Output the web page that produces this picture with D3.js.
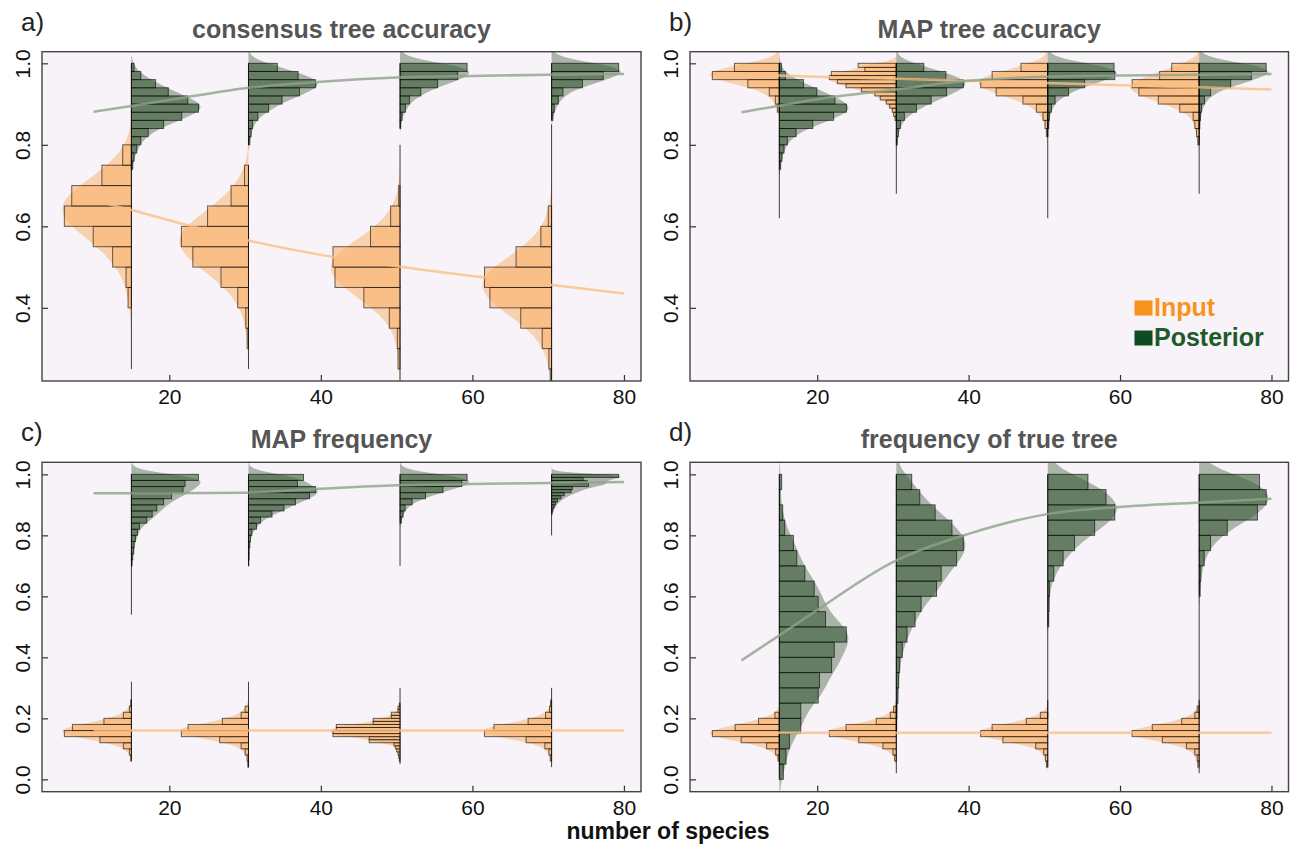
<!DOCTYPE html>
<html>
<head>
<meta charset="utf-8">
<script src="https://cdn.jsdelivr.net/npm/d3@7"></script>
<style>
  body { margin: 0; background: #fff; }
  text { font-family: 'Liberation Sans', Arial, Helvetica, sans-serif; }
</style>
</head>
<body>
<svg id="fig" width="1291" height="845"></svg>
<script>
// species counts of the four simulation sets, and where the fitted curves are read
const groups = [15, 30.45, 50.45, 70.45];
const fitX = [10, 15, 20, 30, 40, 50, 60, 70, 80];
const xTicks = [20, 40, 60, 80];

// histogram bins: first lower edge, bin width, relative counts (bottom -> top)
// a) consensus tree accuracy
const aInStart = [0.25, 0.25, 0.20, 0.20];
const aInStep = [0.05, 0.05, 0.05, 0.05];
const aIn = [
  [0, 0, 0, 0.05, 0.08, 0.28, 0.57, 1.0, 0.89, 0.44, 0.13],
  [0, 0.02, 0.04, 0.16, 0.41, 0.83, 1.0, 0.61, 0.26, 0.06],
  [0, 0.03, 0.04, 0.16, 0.54, 0.97, 1.0, 0.44, 0.14, 0.02, 0, 0],
  [0.02, 0.04, 0.14, 0.46, 0.92, 1.0, 0.53, 0.16, 0.05, 0, 0, 0, 0]
];
const aPostStart = [0.74, 0.80, 0.84, 0.86];
const aPostStep = [0.02, 0.02, 0.02, 0.02];
const aPost = [
  [0.02, 0.04, 0.08, 0.14, 0.25, 0.48, 0.75, 1.0, 0.84, 0.55, 0.36, 0.14, 0.04],
  [0.02, 0.04, 0.06, 0.14, 0.3, 0.5, 0.76, 1.0, 0.74, 0.43],
  [0.01, 0.03, 0.08, 0.14, 0.31, 0.56, 0.86, 1.0],
  [0.02, 0.04, 0.1, 0.17, 0.46, 0.77, 1.0]
];
const aFitIn = [0.663, 0.64, 0.615, 0.567, 0.53, 0.502, 0.478, 0.457, 0.435];
const aFitPost = [0.881, 0.895, 0.91, 0.939, 0.955, 0.965, 0.969, 0.972, 0.974];

// b) MAP tree accuracy
const bInStart = [0.88, 0.86, 0.82, 0.80];
const bInStep = [0.02, 0.01, 0.02, 0.02];
const bIn = [
  [0.03, 0.06, 0.15, 0.47, 1.0, 0.67],
  [0.02, 0.04, 0.06, 0.1, 0.15, 0.24, 0.32, 0.52, 0.75, 0.88, 1.0, 0.97, 0.47, 0.57],
  [0.02, 0.04, 0.07, 0.17, 0.37, 0.77, 1.0, 0.83, 0.4],
  [0.02, 0.04, 0.065, 0.09, 0.29, 0.61, 0.9, 1.0, 0.59, 0.41]
];
const bPostStart = [0.62, 0.68, 0.62, 0.68];
const bPostStep = [0.02, 0.02, 0.02, 0.02];
const bPost = [
  [0, 0, 0, 0, 0, 0, 0.02, 0.04, 0.07, 0.12, 0.25, 0.5, 0.81, 1.0, 0.83, 0.56, 0.36, 0.09, 0.03],
  [0, 0, 0, 0, 0, 0, 0.015, 0.03, 0.06, 0.12, 0.3, 0.52, 0.75, 1.0, 0.74, 0.41],
  [0, 0, 0, 0, 0, 0, 0, 0, 0, 0, 0, 0.015, 0.025, 0.055, 0.11, 0.31, 0.55, 1.0, 0.99],
  [0, 0, 0, 0, 0, 0, 0, 0, 0.01, 0.02, 0.035, 0.08, 0.17, 0.47, 0.78, 1.0]
];
const bFitIn = [0.974, 0.97, 0.967, 0.962, 0.957, 0.952, 0.946, 0.941, 0.936];
const bFitPost = [0.88, 0.896, 0.912, 0.935, 0.957, 0.967, 0.97, 0.972, 0.974];

// c) MAP frequency
const cInStart = [0.06, 0.04, 0.05, 0.04];
const cInStep = [0.02, 0.02, 0.01, 0.02];
const cIn = [
  [0.01, 0.03, 0.12, 0.47, 1.0, 0.88, 0.41, 0.12, 0.03, 0.01, 0, 0, 0],
  [0.01, 0.02, 0.05, 0.11, 0.43, 1.0, 0.9, 0.39, 0.11, 0.05, 0, 0, 0, 0],
  [0, 0.01, 0.02, 0.03, 0.05, 0.07, 0.09, 0.46, 0.46, 1.0, 1.0, 0.95, 0.95, 0.4, 0.4, 0.13, 0.13, 0.03, 0.03, 0.01, 0, 0, 0, 0, 0],
  [0, 0.02, 0.04, 0.1, 0.38, 1.0, 0.86, 0.35, 0.09, 0.03, 0.015, 0, 0]
];
const cPostStart = [0.54, 0.70, 0.70, 0.80];
const cPostStep = [0.02, 0.02, 0.02, 0.01];
const cPost = [
  [0, 0, 0, 0, 0, 0, 0, 0, 0.01, 0.02, 0.035, 0.04, 0.06, 0.09, 0.12, 0.23, 0.31, 0.38, 0.48, 0.6, 0.77, 0.8, 1.0],
  [0.005, 0.01, 0.01, 0.02, 0.03, 0.05, 0.12, 0.18, 0.35, 0.53, 0.7, 0.91, 1.0, 0.73, 0.82],
  [0, 0, 0, 0, 0, 0, 0, 0.02, 0.045, 0.075, 0.18, 0.38, 0.64, 0.92, 1.0],
  [0, 0, 0, 0, 0, 0, 0, 0.01, 0.02, 0.04, 0.06, 0.09, 0.14, 0.19, 0.29, 0.31, 0.55, 0.53, 0.47, 1.0]
];
const cFitIn = [0.16, 0.16, 0.16, 0.16, 0.16, 0.16, 0.16, 0.16, 0.16];
const cFitPost = [0.938, 0.938, 0.938, 0.94, 0.953, 0.964, 0.968, 0.972, 0.975];

// d) frequency of true tree
const dInStart = [0.06, 0.02, 0.04, 0.02];
const dInStep = [0.02, 0.02, 0.02, 0.02];
const dIn = [
  [0.02, 0.055, 0.19, 0.57, 1.0, 0.66, 0.31, 0.065],
  [0, 0, 0.025, 0.05, 0.2, 0.56, 1.0, 0.75, 0.3, 0.09, 0.04],
  [0.02, 0.035, 0.06, 0.18, 0.67, 1.0, 0.83, 0.32, 0.11, 0, 0],
  [0, 0.02, 0.03, 0.065, 0.19, 0.55, 1.0, 0.7, 0.26, 0.065, 0.03, 0]
];
const dPostStart = [0.0, 0.15, 0.20, 0.20];
const dPostStep = [0.05, 0.05, 0.05, 0.05];
const dPost = [
  [0.06, 0.1, 0.15, 0.32, 0.32, 0.58, 0.6, 0.78, 0.82, 1.0, 0.69, 0.58, 0.52, 0.38, 0.26, 0.21, 0.08, 0.05, 0.005, 0.035],
  [0.005, 0.01, 0.025, 0.035, 0.05, 0.09, 0.16, 0.28, 0.37, 0.6, 0.67, 0.9, 1.0, 0.83, 0.58, 0.35, 0.23],
  [0, 0, 0, 0, 0, 0, 0.015, 0.02, 0.025, 0.09, 0.23, 0.4, 0.7, 1.0, 0.87, 0.6],
  [0, 0, 0, 0, 0, 0, 0, 0, 0.015, 0.025, 0.075, 0.17, 0.42, 0.87, 1.0, 0.9]
];
const dFitIn = [0.153, 0.153, 0.153, 0.153, 0.153, 0.153, 0.153, 0.153, 0.153];
const dFitPost = [0.39, 0.472, 0.555, 0.712, 0.805, 0.868, 0.893, 0.907, 0.92];

const col = {
  bg: '#f7f3f9',
  inBar: 'rgba(250,178,106,0.58)',
  inDens: 'rgba(251,176,100,0.5)',
  inFit: '#fbbf85',
  postBar: 'rgba(58,92,56,0.62)',
  postDens: 'rgba(75,105,72,0.45)',
  postFit: '#8ea28b',
  legIn: '#f7941d',
  legPostBox: '#0e4a22',
  legPost: '#1f5a2c'
};

const panels = [
  { tag: 'a)', title: 'consensus tree accuracy', box: [42, 51.7, 641, 381],
    yDomain: [0.2205, 1.0285], yTicks: [0.4, 0.6, 0.8, 1.0],
    input: [aInStart, aInStep, aIn], post: [aPostStart, aPostStep, aPost],
    fitIn: aFitIn, fitPost: aFitPost },
  { tag: 'b)', title: 'MAP tree accuracy', box: [690, 51.7, 1288.5, 381],
    yDomain: [0.2205, 1.0285], yTicks: [0.4, 0.6, 0.8, 1.0],
    input: [bInStart, bInStep, bIn], post: [bPostStart, bPostStep, bPost],
    fitIn: bFitIn, fitPost: bFitPost, legend: true },
  { tag: 'c)', title: 'MAP frequency', box: [42, 462.3, 641, 791.7],
    yDomain: [-0.0405, 1.0395], yTicks: [0.0, 0.2, 0.4, 0.6, 0.8, 1.0],
    input: [cInStart, cInStep, cIn], post: [cPostStart, cPostStep, cPost],
    fitIn: cFitIn, fitPost: cFitPost },
  { tag: 'd)', title: 'frequency of true tree', box: [690, 462.3, 1288.5, 791.7],
    yDomain: [-0.0405, 1.0395], yTicks: [0.0, 0.2, 0.4, 0.6, 0.8, 1.0],
    input: [dInStart, dInStep, dIn], post: [dPostStart, dPostStep, dPost],
    fitIn: dFitIn, fitPost: dFitPost }
];

const svg = d3.select('#fig');

// smoothed outline of a histogram, scaled so that its peak matches the tallest bin
function smooth(start, step, counts) {
  const mids = counts.map((c, i) => start + step * (i + 0.5));
  const bw = step * 0.8;
  const lo = start - 2.5 * bw;
  const hi = start + step * counts.length + 2.5 * bw;
  const pts = d3.range(lo, hi + step / 16, step / 8).map(v =>
    [v, d3.sum(counts, (c, i) => c * Math.exp(-0.5 * ((v - mids[i]) / bw) ** 2))]
  );
  const m = d3.max(pts, p => p[1]);
  return pts.filter(p => p[1] > 0.004 * m).map(p => [p[0], 1.03 * p[1] / m]);
}

function drawPanel(p, idx) {
  const [x0, y0, x1, y1] = p.box;
  const x = d3.scaleLinear().domain([3.2, 82.25]).range([x0, x1]);
  const y = d3.scaleLinear().domain(p.yDomain).range([y1, y0]);
  const w = d3.scaleLinear().domain([0, 1]).range([0, 8.85]); // half width, in species

  const g = svg.append('g');

  g.append('rect')
    .attr('x', x0).attr('y', y0)
    .attr('width', x1 - x0).attr('height', y1 - y0)
    .attr('fill', col.bg);

  const clipId = 'clip' + idx;
  svg.append('clipPath').attr('id', clipId)
    .append('rect')
    .attr('x', x0).attr('y', y0)
    .attr('width', x1 - x0).attr('height', y1 - y0);

  const inner = g.append('g').attr('clip-path', `url(#${clipId})`);

  const series = [
    { data: p.input, side: -1, bar: col.inBar, dens: col.inDens },
    { data: p.post, side: 1, bar: col.postBar, dens: col.postDens }
  ];

  // densities first, bars on top
  series.forEach(s => {
    const [starts, steps, counts] = s.data;
    groups.forEach((n, i) => {
      const pts = smooth(starts[i], steps[i], counts[i]);
      const area = d3.area()
        .curve(d3.curveBasis)
        .y(d => y(d[0]))
        .x0(x(n))
        .x1(d => x(n + s.side * w(d[1])));
      inner.append('path')
        .attr('d', area(pts))
        .attr('fill', s.dens);
    });
  });

  series.forEach(s => {
    const [starts, steps, counts] = s.data;
    groups.forEach((n, i) => {
      const bins = counts[i].map((c, k) => ({
        c, lo: starts[i] + steps[i] * k, hi: starts[i] + steps[i] * (k + 1)
      })).filter(b => b.c > 0);

      inner.append('g')
        .selectAll('rect')
        .data(bins)
        .join('rect')
        .attr('x', b => s.side < 0 ? x(n - w(b.c)) : x(n))
        .attr('width', b => x(n + w(b.c)) - x(n))
        .attr('y', b => y(b.hi))
        .attr('height', b => y(b.lo) - y(b.hi))
        .attr('fill', s.bar)
        .attr('stroke', 'rgba(0,0,0,0.6)')
        .attr('stroke-width', 1);

      // empty bins still leave their edge on the centre line
      const lo = starts[i];
      const hi = starts[i] + steps[i] * counts[i].length;
      inner.append('line')
        .attr('x1', x(n)).attr('x2', x(n))
        .attr('y1', y(lo)).attr('y2', y(hi))
        .attr('stroke', 'rgba(0,0,0,0.75)')
        .attr('stroke-width', 1);
    });
  });

  // fitted curves
  const fits = [[p.fitIn, col.inFit], [p.fitPost, col.postFit]];
  fits.forEach(([vals, c]) => {
    const line = d3.line()
      .curve(d3.curveMonotoneX)
      .x((d, k) => x(fitX[k]))
      .y(d => y(d));
    inner.append('path')
      .attr('d', line(vals))
      .attr('fill', 'none')
      .attr('stroke', c)
      .attr('stroke-opacity', 0.8)
      .attr('stroke-width', 2.5);
  });

  // axes, ticks pointing inward
  const xAxis = g.append('g')
    .attr('transform', `translate(0,${y1})`)
    .call(d3.axisBottom(x).tickValues(xTicks).tickSizeInner(-6).tickSizeOuter(0).tickPadding(8));
  xAxis.select('.domain').remove();
  xAxis.selectAll('line').attr('stroke', '#333').attr('stroke-width', 1.2);
  xAxis.selectAll('text')
    .attr('font-size', 21)
    .attr('font-family', "'Liberation Sans', Arial, sans-serif")
    .attr('fill', '#111');

  const yAxis = g.append('g')
    .attr('transform', `translate(${x0},0)`)
    .call(d3.axisLeft(y).tickValues(p.yTicks).tickSizeInner(-6).tickSizeOuter(0).tickFormat(d3.format('.1f')));
  yAxis.select('.domain').remove();
  yAxis.selectAll('line').attr('stroke', '#333').attr('stroke-width', 1.2);
  yAxis.selectAll('text')
    .attr('x', null).attr('dy', null)
    .attr('transform', 'translate(-12.5,0) rotate(-90)')
    .attr('text-anchor', 'middle')
    .attr('font-size', 21)
    .attr('font-family', "'Liberation Sans', Arial, sans-serif")
    .attr('fill', '#111');

  g.append('rect')
    .attr('x', x0).attr('y', y0)
    .attr('width', x1 - x0).attr('height', y1 - y0)
    .attr('fill', 'none')
    .attr('stroke', '#444')
    .attr('stroke-width', 1.4);

  // title and panel letter
  g.append('text')
    .attr('x', (x0 + x1) / 2)
    .attr('y', y0 - 14)
    .attr('text-anchor', 'middle')
    .attr('font-size', 25)
    .attr('font-weight', 'bold')
    .attr('fill', '#555')
    .text(p.title);

  g.append('text')
    .attr('x', x0 - 21)
    .attr('y', y0 - 21)
    .attr('font-size', 26)
    .attr('fill', '#222')
    .text(p.tag);

  if (p.legend) {
    const items = [['Input', col.legIn, col.legIn], ['Posterior', col.legPostBox, col.legPost]];
    items.forEach(([label, box, txt], k) => {
      const ly = 316 + k * 30;
      g.append('rect')
        .attr('x', 1134.5).attr('y', ly - 15.5)
        .attr('width', 18).attr('height', 15)
        .attr('fill', box);
      g.append('text')
        .attr('x', 1154).attr('y', ly)
        .attr('font-size', 25)
        .attr('font-weight', 'bold')
        .attr('fill', txt)
        .text(label);
    });
  }
}

panels.forEach(drawPanel);

svg.append('text')
  .attr('x', 668)
  .attr('y', 839)
  .attr('text-anchor', 'middle')
  .attr('font-size', 23)
  .attr('font-weight', 'bold')
  .attr('fill', '#111')
  .text('number of species');
</script>
</body>
</html>
